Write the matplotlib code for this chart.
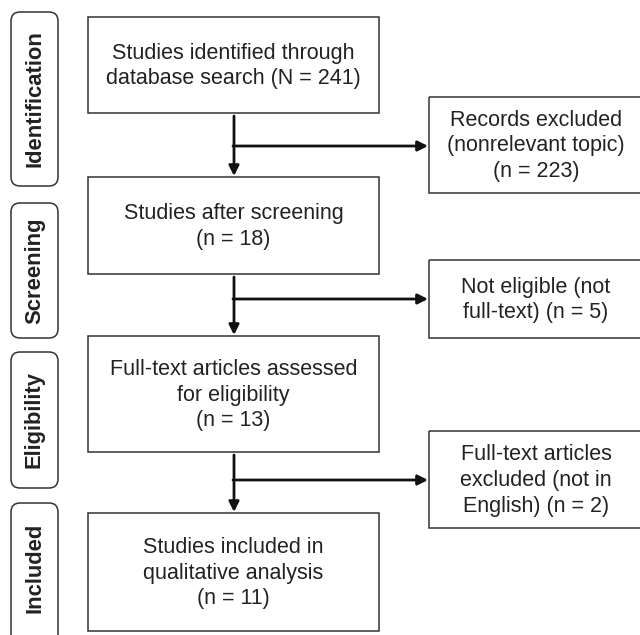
import matplotlib
matplotlib.use("Agg")
import matplotlib.pyplot as plt
from matplotlib.patches import Rectangle, FancyBboxPatch

plt.rcParams['font.family'] = ['Liberation Sans', 'DejaVu Sans']

# Data
stages = ["Identification", "Screening", "Eligibility", "Included"]
main_texts = ["Studies identified through\ndatabase search (N = {})",
              "Studies after screening\n(n = {})",
              "Full-text articles assessed\nfor eligibility\n(n = {})",
              "Studies included in\nqualitative analysis\n(n = {})"]
main_counts = [241, 18, 13, 11]
excl_texts = ["Records excluded\n(nonrelevant topic)\n(n = {})",
              "Not eligible (not\nfull-text) (n = {})",
              "Full-text articles\nexcluded (not in\nEnglish) (n = {})"]
excl_counts = [223, 5, 2]

W, H = 640, 635
fig = plt.figure(figsize=(W / 100, H / 100), dpi=100)
ax = fig.add_axes([0, 0, 1, 1])
ax.set_xlim(0, W)
ax.set_ylim(H, 0)
ax.axis('off')

# layout (pixel geometry)
main_x0, main_x1 = 88, 379
main_y = [(17, 113), (177, 274), (336, 452), (513, 631)]
stage_y = [(12, 186), (203, 338), (352, 488), (503, 660)]
stage_x0, stage_x1 = 11, 58
excl_x0, excl_x1 = 429, 660
excl_y = [(97, 193), (260, 338), (431, 528)]
branch_y = [146, 299, 480]
arrow_x = 234

edge = '#333333'
tcol = '#222222'
fs = 15.5
ls = 1.3

for (y0, y1), txt, n in zip(main_y, main_texts, main_counts):
    ax.add_patch(Rectangle((main_x0, y0), main_x1 - main_x0, y1 - y0,
                           fill=False, ec=edge, lw=1.1))
    ax.text((main_x0 + main_x1) / 2, (y0 + y1) / 2 + 1, txt.format(n),
            ha='center', va='center', fontsize=fs, color=tcol, linespacing=ls)

for (y0, y1), txt, n in zip(excl_y, excl_texts, excl_counts):
    ax.add_patch(Rectangle((excl_x0, y0), excl_x1 - excl_x0, y1 - y0,
                           fill=False, ec=edge, lw=1.1, clip_on=True))
    ax.text(536, (y0 + y1) / 2 + 1, txt.format(n),
            ha='center', va='center', fontsize=fs, color=tcol, linespacing=ls)

for (y0, y1), name in zip(stage_y, stages):
    ax.add_patch(FancyBboxPatch((stage_x0, y0), stage_x1 - stage_x0, y1 - y0,
                                boxstyle="round,pad=0,rounding_size=9",
                                fill=False, ec=edge, lw=1.1))
    ax.text((stage_x0 + stage_x1) / 2, (y0 + min(y1, 633)) / 2, name,
            rotation=90, ha='center', va='center', fontsize=fs + 0.3,
            fontweight='bold', color=tcol)

# arrows
for i in range(3):
    ys = main_y[i][1] + 3
    ye = main_y[i + 1][0] - 1
    ax.annotate('', xy=(arrow_x, ye), xytext=(arrow_x, ys),
                arrowprops=dict(arrowstyle='-|>,head_length=0.6,head_width=0.3',
                                color='#111111', lw=2, shrinkA=0, shrinkB=0))
    ax.annotate('', xy=(excl_x0 - 1, branch_y[i]), xytext=(arrow_x - 1, branch_y[i]),
                arrowprops=dict(arrowstyle='-|>,head_length=0.6,head_width=0.3',
                                color='#111111', lw=2, shrinkA=0, shrinkB=0))

fig.savefig('out.png', dpi=100, facecolor='white')
